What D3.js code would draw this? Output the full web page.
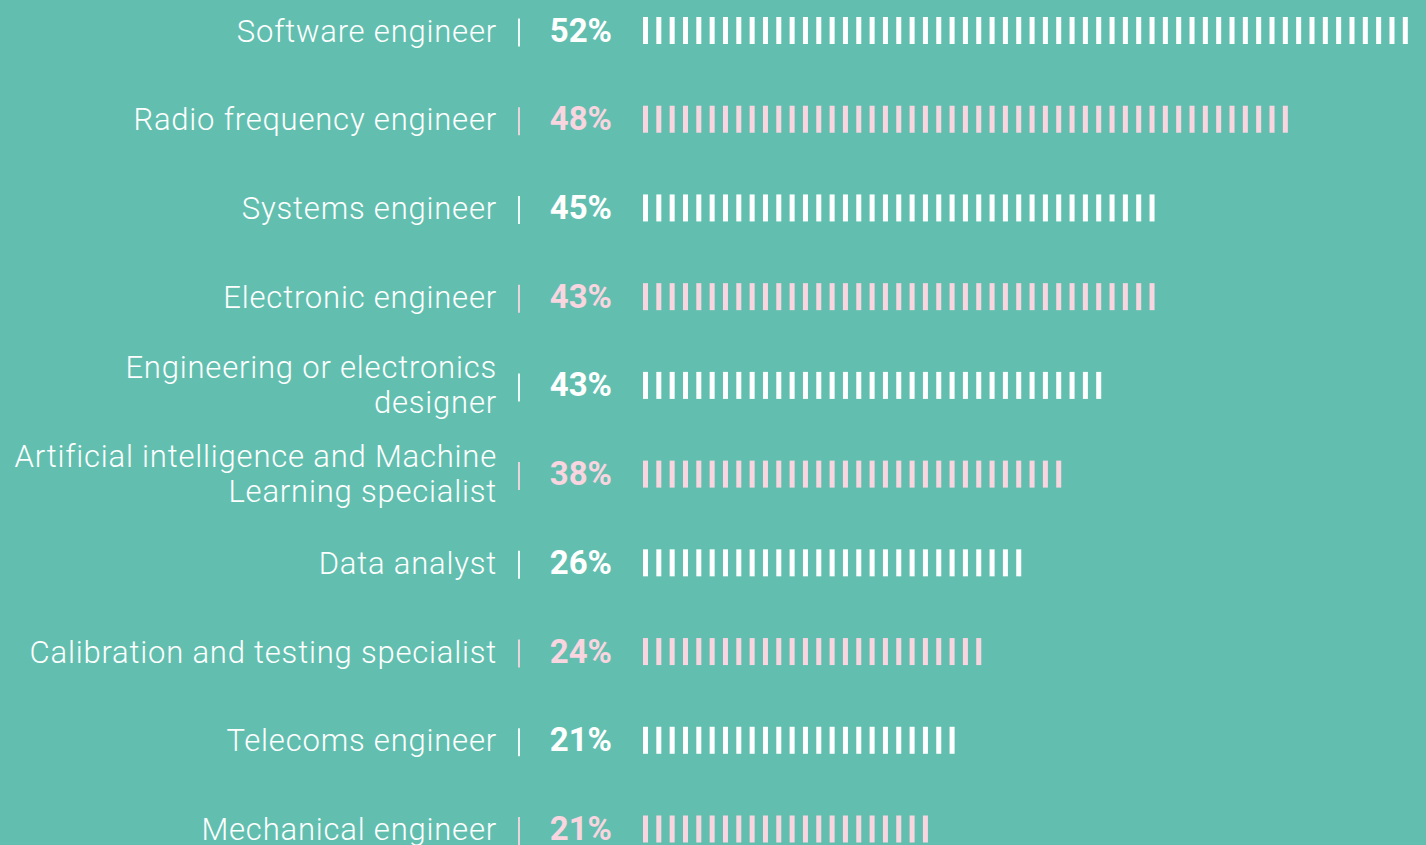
<!DOCTYPE html>
<html>
<head>
<meta charset="utf-8">
<script src="https://cdn.jsdelivr.net/npm/d3@7"></script>
<style>
    html, body { margin: 0; padding: 0; background: #62bfaf; overflow: hidden; }
    svg { display: block; }
</style>
</head>
<body>
<svg id="chart" width="1426" height="845"></svg>
<script>
// job titles, one line or two per row
let jobs = [
    ["Software engineer"],
    ["Radio frequency engineer"],
    ["Systems engineer"],
    ["Electronic engineer"],
    ["Engineering or electronics", "designer"],
    ["Artificial intelligence and Machine", "Learning specialist"],
    ["Data analyst"],
    ["Calibration and testing specialist"],
    ["Telecoms engineer"],
    ["Mechanical engineer"]
];
let percents = [52, 48, 45, 43, 43, 38, 26, 24, 21, 21];
// number of little marks drawn in each bar
let marks = [58, 49, 39, 39, 35, 32, 29, 26, 24, 22];

let width = 1426;
let height = 845;
let white = "#ffffff";
let pink = "#f9d5e0";

let svg = d3.select("#chart");

let rows = d3.range(jobs.length);

// row centres
let yScale = d3.scalePoint()
               .domain(rows)
               .range([30.5, 829]);

// mark positions along each bar
let pitch = 13.33;
let maxMarks = d3.max(marks);
let xScale = d3.scaleLinear()
               .domain([0, maxMarks - 1])
               .range([643, 643 + (maxMarks - 1) * pitch]);

let colour = i => (i % 2 === 0 ? white : pink);

let row = svg.selectAll("g.row")
             .data(rows)
             .enter().append("g")
             .attr("class", "row")
             .attr("transform", d => "translate(0," + yScale(d) + ")");

// labels, right aligned
row.append("text")
   .attr("text-anchor", "end")
   .attr("fill", white)
   .style("font-family", "Roboto, 'Open Sans', sans-serif")
   .style("font-weight", 300)
   .style("font-size", "31px")
   .style("letter-spacing", "0.8px")
   .each(function(d) {
       let lines = jobs[d];
       let first = lines.length === 1 ? 11 : -7;
       d3.select(this).selectAll("tspan")
         .data(lines)
         .enter().append("tspan")
         .attr("x", 497)
         .attr("y", (l, j) => first + j * 35)
         .text(l => l);
   });

// separator
row.append("line")
   .attr("x1", 519)
   .attr("x2", 519)
   .attr("y1", -12)
   .attr("y2", 16)
   .attr("stroke", d => colour(d))
   .attr("stroke-opacity", 0.9)
   .attr("stroke-width", 2);

// percentage
row.append("text")
   .attr("x", 612)
   .attr("y", 11)
   .attr("text-anchor", "end")
   .attr("fill", d => colour(d))
   .style("font-family", "Roboto, 'Open Sans', sans-serif")
   .style("font-weight", 700)
   .style("font-size", "33px")
   .text(d => percents[d] + "%");

// bars made of marks
row.selectAll("rect")
   .data(d => d3.range(marks[d]).map(i => ({row: d, i: i})))
   .enter().append("rect")
   .attr("x", d => xScale(d.i))
   .attr("y", -13.5)
   .attr("width", 5)
   .attr("height", 27)
   .attr("fill", d => colour(d.row));
</script>
</body>
</html>
